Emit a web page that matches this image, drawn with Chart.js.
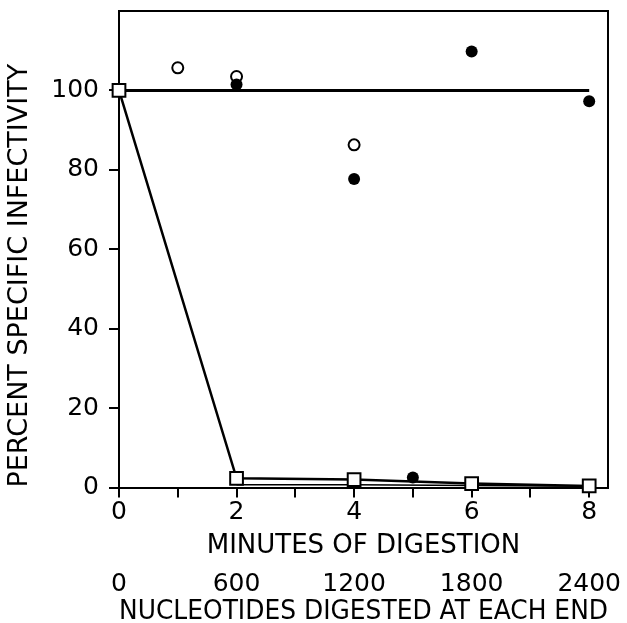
<!DOCTYPE html>
<html>
<head>
<meta charset="utf-8">
<script src="https://cdn.jsdelivr.net/npm/chart.js@4/dist/chart.umd.min.js"></script>
<style>
  html, body { margin: 0; padding: 0; background: #fff; }
  canvas { display: block; }
</style>
</head>
<body>
<canvas id="grafica" width="627" height="623"></canvas>
<script>
// ---- datos ----
const marcasMinutos = [0, 1, 2, 3, 4, 5, 6, 7, 8];
const etiquetasMinutos = [0, 2, 4, 6, 8];
const marcasNucleotidos = [0, 600, 1200, 1800, 2400];
const marcasPorcentaje = [0, 20, 40, 60, 80, 100];

const controlX = [0, 8];
const controlY = [100, 100];

const abiertosX = [1, 2, 4];
const abiertosY = [105.7, 103.5, 86.3];

const llenosX = [2, 4, 5, 6, 8];
const llenosY = [101.5, 77.7, 2.5, 109.8, 97.3];

const cuadradosX = [0, 2, 4, 6, 8];
const cuadradosY = [100, 2.3, 2.0, 1.0, 0.4];

const inferiorX = [2, 4, 6, 8];
const inferiorY = [0.7, 0.7, 0.5, 0.3];

const FUENTE = "'DejaVu Sans', sans-serif";

function puntos(xs, ys) {
  return xs.map((x, i) => ({ x, y: ys[i] }));
}

/* ===========================================
          MARCO SUPERIOR / DERECHO
=========================================== */
const marco = {
  id: "marco",
  beforeDatasetsDraw(chart) {
    const { ctx, chartArea: a } = chart;
    ctx.save();
    ctx.strokeStyle = "#000";
    ctx.lineWidth = 2;
    ctx.beginPath();
    ctx.moveTo(a.left, a.top);
    ctx.lineTo(a.right, a.top);
    ctx.lineTo(a.right, a.bottom);
    ctx.stroke();
    ctx.restore();
  }
};

function sinMargenVertical(s) {
  s.paddingTop = 0;
  s.paddingBottom = 0;
}

function sinMargenHorizontal(s) {
  s.paddingLeft = 0;
  s.paddingRight = 0;
}

/* ===========================================
                 GRÁFICA
=========================================== */
new Chart(document.getElementById("grafica"), {
  type: "scatter",
  data: {
    datasets: [
      {
        data: puntos(cuadradosX, cuadradosY),
        showLine: true,
        borderColor: "#000",
        borderWidth: 2.5,
        pointStyle: "rect",
        pointRadius: 9,
        pointBorderWidth: 2,
        pointBackgroundColor: "#fff",
        pointBorderColor: "#000",
        clip: false
      },
      {
        data: puntos(llenosX, llenosY),
        showLine: false,
        pointStyle: "circle",
        pointRadius: 6,
        pointBorderWidth: 0,
        pointBackgroundColor: "#000",
        clip: false
      },
      {
        data: puntos(abiertosX, abiertosY),
        showLine: false,
        pointStyle: "circle",
        pointRadius: 5.5,
        pointBorderWidth: 2,
        pointBackgroundColor: "#fff",
        pointBorderColor: "#000",
        clip: false
      },
      {
        data: puntos(inferiorX, inferiorY),
        showLine: true,
        borderColor: "#000",
        borderWidth: 1.5,
        pointRadius: 0,
        clip: false
      },
      {
        data: puntos(controlX, controlY),
        showLine: true,
        borderColor: "#000",
        borderWidth: 3,
        pointRadius: 0,
        clip: false
      }
    ]
  },
  options: {
    responsive: false,
    animation: false,
    devicePixelRatio: 1,
    layout: { padding: { top: 9.5, right: 19, left: 0, bottom: 0 } },
    plugins: { legend: { display: false }, tooltip: { enabled: false } },
    scales: {
      x: {
        type: "linear",
        position: "bottom",
        min: 0,
        max: 8.32,
        afterBuildTicks: s => { s.ticks = marcasMinutos.map(v => ({ value: v })); },
        afterFit: s => { s.height = 78; sinMargenHorizontal(s); },
        grid: { drawOnChartArea: false, drawTicks: true, tickLength: 10, color: "#000", lineWidth: 2 },
        border: { display: true, color: "#000", width: 2 },
        ticks: {
          color: "#000",
          padding: 0,
          maxRotation: 0,
          autoSkip: false,
          font: { family: FUENTE, size: 25 },
          callback: v => etiquetasMinutos.includes(v) ? String(v) : ""
        },
        title: {
          display: true,
          text: "MINUTES OF DIGESTION",
          color: "#000",
          font: { family: FUENTE, size: 26 },
          padding: { top: 0, bottom: 4 }
        }
      },
      x2: {
        type: "linear",
        position: "bottom",
        min: 0,
        max: 8.32 * 300,
        afterBuildTicks: s => { s.ticks = marcasNucleotidos.map(v => ({ value: v })); },
        afterFit: s => { s.height = 57.5; sinMargenHorizontal(s); },
        grid: { display: false, drawTicks: false },
        border: { display: false },
        ticks: {
          color: "#000",
          padding: 4,
          maxRotation: 0,
          autoSkip: false,
          font: { family: FUENTE, size: 25 },
          callback: v => String(v)
        },
        title: {
          display: true,
          text: "NUCLEOTIDES DIGESTED AT EACH END",
          color: "#000",
          font: { family: FUENTE, size: 26 },
          padding: { top: 0, bottom: -5 }
        }
      },
      y: {
        type: "linear",
        min: 0,
        max: 120,
        afterBuildTicks: s => { s.ticks = marcasPorcentaje.map(v => ({ value: v })); },
        afterFit: s => { s.width = 119; sinMargenVertical(s); },
        grid: { drawOnChartArea: false, drawTicks: true, tickLength: 10, color: "#000", lineWidth: 2 },
        border: { display: true, color: "#000", width: 2 },
        ticks: {
          color: "#000",
          padding: 10,
          font: { family: FUENTE, size: 25 }
        },
        title: {
          display: true,
          text: "PERCENT SPECIFIC INFECTIVITY",
          color: "#000",
          align: "start",
          font: { family: FUENTE, size: 27 },
          padding: { top: 4, bottom: 0 }
        }
      }
    }
  },
  plugins: [marco]
});
</script>
</body>
</html>
